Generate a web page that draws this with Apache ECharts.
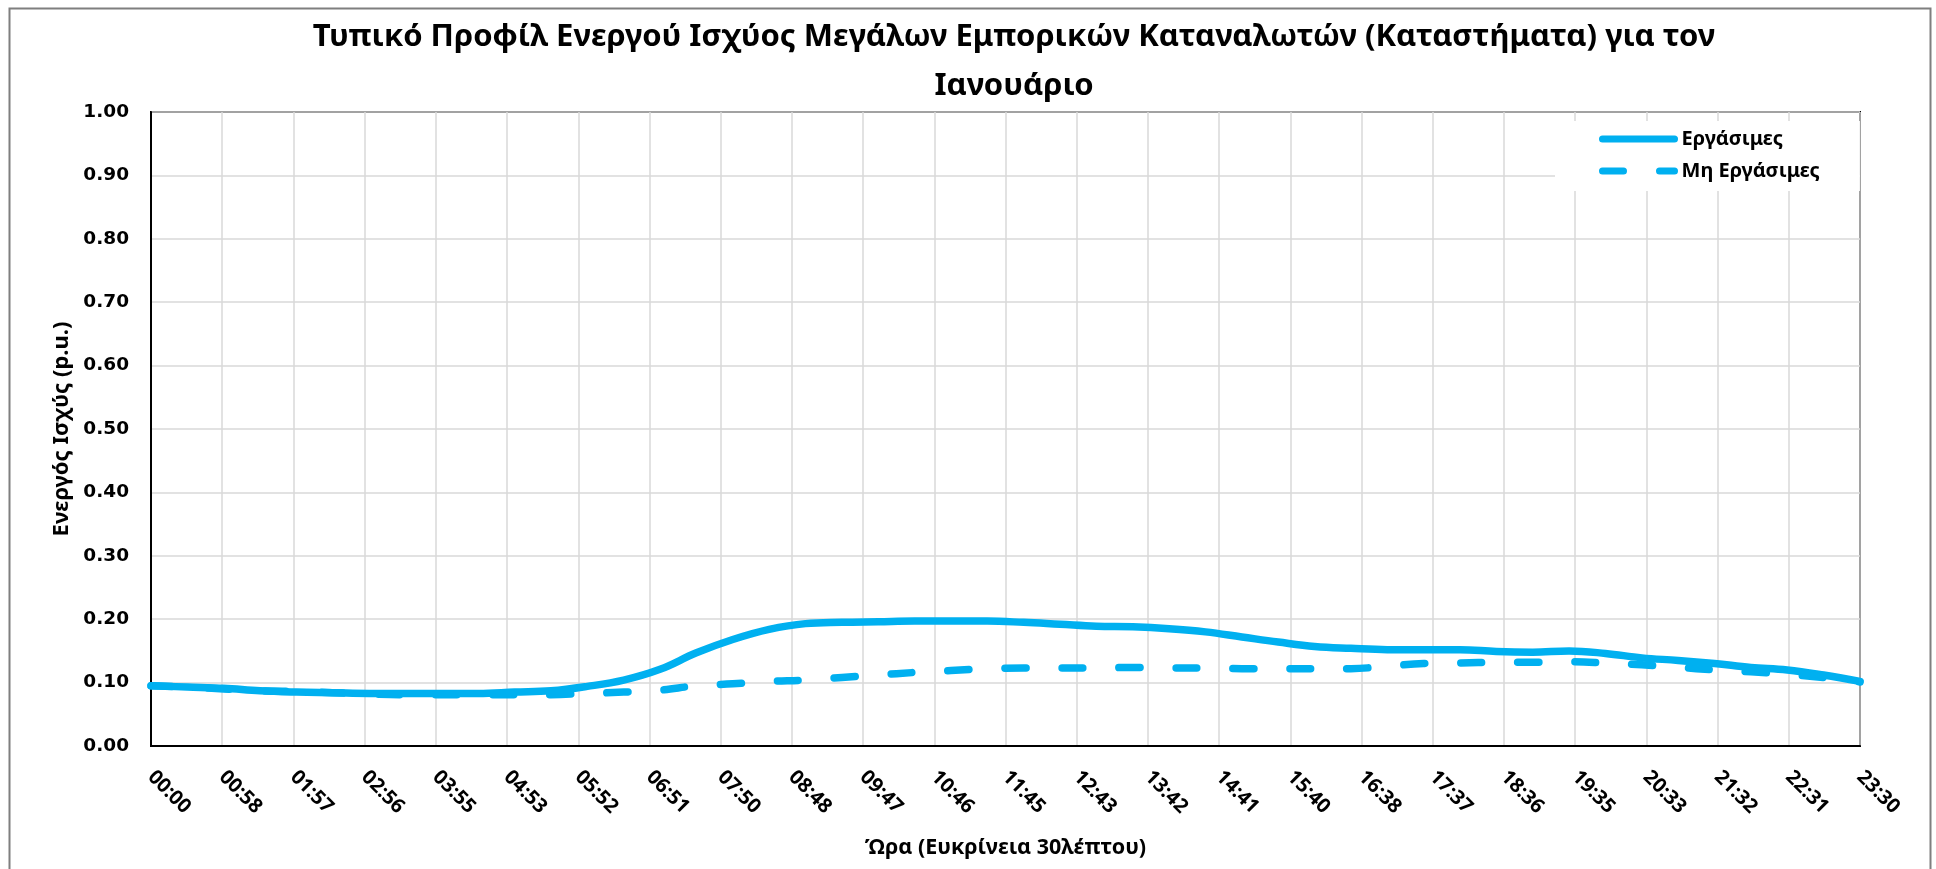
<!DOCTYPE html>
<html>
<head>
<meta charset="utf-8">
<title>Προφίλ Ενεργού Ισχύος</title>
<script src="https://cdn.jsdelivr.net/npm/echarts@6/dist/echarts.min.js"></script>
<style>
  html, body { margin: 0; padding: 0; background: #fff; }
  #chart { width: 1936px; height: 869px; }
</style>
</head>
<body>
<div id="chart"></div>
<script>
// ώρες (30λεπτη ανάλυση)
const times = [
  "00:00", "00:30", "01:00", "01:30", "02:00", "02:30", "03:00", "03:30",
  "04:00", "04:30", "05:00", "05:30", "06:00", "06:30", "07:00", "07:30",
  "08:00", "08:30", "09:00", "09:30", "10:00", "10:30", "11:00", "11:30",
  "12:00", "12:30", "13:00", "13:30", "14:00", "14:30", "15:00", "15:30",
  "16:00", "16:30", "17:00", "17:30", "18:00", "18:30", "19:00", "19:30",
  "20:00", "20:30", "21:00", "21:30", "22:00", "22:30", "23:00", "23:30"
];

// Εργάσιμες
const workdays = [
  0.095, 0.093, 0.091, 0.087, 0.085, 0.084, 0.083, 0.083,
  0.083, 0.083, 0.085, 0.087, 0.094, 0.104, 0.121, 0.147,
  0.168, 0.184, 0.193, 0.195, 0.196, 0.197, 0.197, 0.197,
  0.195, 0.192, 0.189, 0.188, 0.185, 0.180, 0.172, 0.164,
  0.157, 0.154, 0.152, 0.152, 0.152, 0.149, 0.148, 0.150,
  0.146, 0.139, 0.135, 0.130, 0.124, 0.120, 0.112, 0.102
];

// Μη Εργάσιμες
const holidays = [
  0.095, 0.093, 0.090, 0.087, 0.086, 0.084, 0.082, 0.081,
  0.081, 0.081, 0.081, 0.081, 0.083, 0.085, 0.088, 0.095,
  0.098, 0.102, 0.104, 0.108, 0.112, 0.116, 0.119, 0.122,
  0.123, 0.123, 0.123, 0.124, 0.123, 0.123, 0.122, 0.122,
  0.122, 0.122, 0.126, 0.130, 0.131, 0.132, 0.132, 0.133,
  0.131, 0.128, 0.124, 0.120, 0.117, 0.113, 0.108, 0.101
];

const yTicks = [0, 0.1, 0.2, 0.3, 0.4, 0.5, 0.6, 0.7, 0.8, 0.9, 1.0];

const toMin = (t) => {
  const p = t.split(":");
  return Number(p[0]) * 60 + Number(p[1]);
};
const pad = (n) => (n < 10 ? "0" : "") + n;

const blue = "#00b0f0";
const grid = "#d9d9d9";
const txtFont = "'Noto Sans', 'DejaVu Sans', sans-serif";

const chart = echarts.init(document.getElementById("chart"));

const option = {
  animation: false,
  backgroundColor: "#fff",
  title: {
    text: "Τυπικό Προφίλ Ενεργού Ισχύος Μεγάλων Εμπορικών Καταναλωτών (Καταστήματα) για τον\nΙανουάριο",
    left: 1009,
    top: 8,
    textAlign: "center",
    textStyle: {
      fontFamily: txtFont,
      fontWeight: "bold",
      fontSize: 31,
      lineHeight: 49,
      color: "#000"
    }
  },
  grid: {
    left: 151,
    right: 76,
    top: 112,
    bottom: 123,
    show: true,
    borderColor: "#000",
    borderWidth: 2
  },
  legend: {
    orient: "vertical",
    left: 1555,
    top: 121,
    align: "left",
    backgroundColor: "#fff",
    padding: [8, 40, 10, 44],
    itemWidth: 72,
    itemHeight: 14,
    itemGap: 12,
    itemStyle: { opacity: 0 },
    lineStyle: { width: 7, cap: "round" },
    textStyle: {
      fontFamily: txtFont,
      fontWeight: "bold",
      fontSize: 20,
      color: "#000",
      padding: [0, 0, 0, 2]
    },
    data: ["Εργάσιμες", "Μη Εργάσιμες"]
  },
  xAxis: {
    type: "value",
    min: 0,
    max: 1410,
    interval: 58.75,
    name: "Ώρα (Ευκρίνεια 30λέπτου)",
    nameLocation: "middle",
    nameGap: 91,
    nameTextStyle: {
      fontFamily: txtFont,
      fontWeight: "bold",
      fontSize: 21.5,
      color: "#000"
    },
    axisLine: { show: true, lineStyle: { color: "#000", width: 2 } },
    axisTick: { show: false },
    axisLabel: {
      rotate: -45,
      margin: 28,
      fontFamily: txtFont,
      fontWeight: "bold",
      fontSize: 20,
      color: "#000",
      formatter: (v) => pad(Math.floor(v / 60)) + ":" + pad(Math.floor(v % 60))
    },
    splitLine: { show: true, lineStyle: { color: grid, width: 1.5 } }
  },
  yAxis: {
    type: "value",
    min: yTicks[0],
    max: yTicks[yTicks.length - 1],
    interval: 0.1,
    name: "Ενεργός Ισχύς (p.u.)",
    nameLocation: "middle",
    nameGap: 76,
    nameTextStyle: {
      fontFamily: txtFont,
      fontWeight: "bold",
      fontSize: 22,
      color: "#000"
    },
    axisLine: { show: true, lineStyle: { color: "#000", width: 2 } },
    axisTick: { show: false },
    axisLabel: {
      margin: 22,
      fontFamily: "'DejaVu Sans', Verdana, sans-serif",
      fontWeight: "bold",
      fontSize: 18.5,
      color: "#000",
      formatter: (v) => v.toFixed(2)
    },
    splitLine: { show: true, lineStyle: { color: grid, width: 1.5 } }
  },
  series: [
    {
      name: "Εργάσιμες",
      type: "line",
      smooth: 0.4,
      symbol: "none",
      z: 3,
      lineStyle: { color: blue, width: 7.5, cap: "round", join: "round" },
      itemStyle: { color: blue },
      data: times.map((t, i) => [toMin(t), workdays[i]])
    },
    {
      name: "Μη Εργάσιμες",
      type: "line",
      smooth: 0.4,
      symbol: "none",
      z: 2,
      lineStyle: { color: blue, width: 7.5, type: [21, 36], cap: "round", join: "round" },
      itemStyle: { color: blue },
      data: times.map((t, i) => [toMin(t), holidays[i]])
    }
  ],
  graphic: [
    {
      type: "rect",
      left: 7,
      top: 6,
      shape: { width: 1921, height: 880 },
      style: { fill: "none", stroke: "#7f7f7f", lineWidth: 2 },
      silent: true
    }
  ]
};

chart.setOption(option);
</script>
</body>
</html>
